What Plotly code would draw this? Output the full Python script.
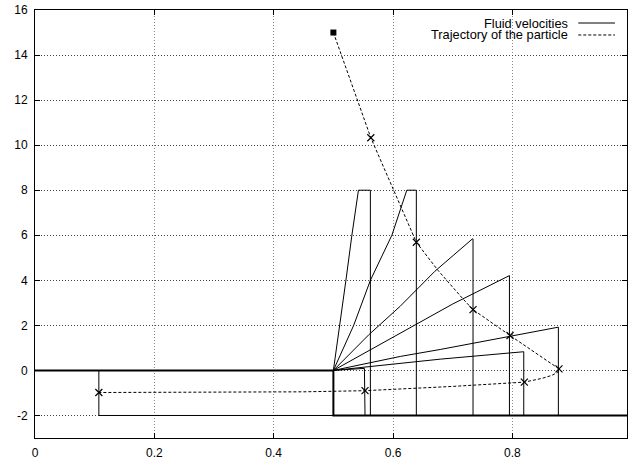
import plotly.graph_objects as go

# ---- data ----
# channel walls (thick)
wall_x = [0.0, 0.5, 0.5, 0.992]
wall_y = [0.0, 0.0, -2.0, -2.0]

# fluid velocity profiles
p1_x = [0.5, 0.511, 0.521, 0.531, 0.542, 0.562, 0.562]
p1_y = [0.0, 2.0, 4.0, 6.0, 8.0, 8.0, -2.0]
p2_x = [0.5, 0.534, 0.562, 0.598, 0.623, 0.639, 0.639]
p2_y = [0.0, 2.0, 4.0, 6.0, 8.0, 8.0, -2.0]
p3_x = [0.5, 0.56, 0.612, 0.67, 0.733, 0.734, 0.734]
p3_y = [0.0, 1.6, 2.85, 4.4, 5.84, 5.84, -2.0]
p4_x = [0.5, 0.612, 0.70, 0.795, 0.795]
p4_y = [0.0, 1.64, 2.95, 4.21, -2.0]
p5_x = [0.5, 0.612, 0.679, 0.877, 0.877]
p5_y = [0.0, 0.62, 0.93, 1.92, -2.0]
p6_x = [0.5, 0.612, 0.679, 0.819, 0.819]
p6_y = [0.0, 0.31, 0.50, 0.83, -2.0]
p7_x = [0.5, 0.552, 0.553]
p7_y = [0.0, 0.09, -2.0]
p8_x = [0.107, 0.107, 0.5]
p8_y = [0.0, -2.0, -2.0]
profiles = [(p1_x, p1_y), (p2_x, p2_y), (p3_x, p3_y), (p4_x, p4_y),
            (p5_x, p5_y), (p6_x, p6_y), (p7_x, p7_y), (p8_x, p8_y)]

# particle trajectory (curve) and sampled positions (markers)
traj_x = [0.5, 0.5627, 0.639, 0.675, 0.718, 0.734, 0.796, 0.878, 0.876, 0.866, 0.850, 0.820, 0.70, 0.553, 0.45, 0.107]
traj_y = [15.0, 10.33, 5.69, 4.45, 3.15, 2.70, 1.55, 0.07, -0.08, -0.22, -0.35, -0.52, -0.71, -0.90, -0.95, -0.98]
mark_x = [0.5627, 0.639, 0.734, 0.796, 0.878, 0.820, 0.553, 0.107]
mark_y = [10.33, 5.69, 2.70, 1.55, 0.07, -0.52, -0.90, -0.98]
start_x = [0.5]
start_y = [15.0]

x_ticks = [0, 0.2, 0.4, 0.6, 0.8]
x_labels = ["0", "0.2", "0.4", "0.6", "0.8"]
y_ticks = [-2, 0, 2, 4, 6, 8, 10, 12, 14, 16]
y_labels = [str(v) for v in y_ticks]

legend_labels = ["Fluid velocities", "Trajectory of the particle"]

# ---- build figure ----
FONT = "Liberation Sans, Arial, Helvetica, sans-serif"
fig = go.Figure()

fx, fy = [], []
for px, py in profiles:
    fx += px + [None]
    fy += py + [None]
fig.add_trace(go.Scatter(x=fx, y=fy, mode="lines", line=dict(color="black", width=1),
                         name=legend_labels[0], showlegend=False, hoverinfo="skip"))
fig.add_trace(go.Scatter(x=wall_x, y=wall_y, mode="lines", line=dict(color="black", width=2),
                         showlegend=False, hoverinfo="skip"))
fig.add_trace(go.Scatter(x=traj_x, y=traj_y, mode="lines",
                         line=dict(color="black", width=1, dash="3px,2px"),
                         name=legend_labels[1], showlegend=False, hoverinfo="skip"))
fig.add_trace(go.Scatter(x=mark_x, y=mark_y, mode="markers",
                         marker=dict(symbol="x-thin-open", size=7, color="black",
                                     line=dict(color="black", width=1.2)),
                         showlegend=False, hoverinfo="skip"))
fig.add_trace(go.Scatter(x=start_x, y=start_y, mode="markers",
                         marker=dict(symbol="square", size=6, color="black"),
                         showlegend=False, hoverinfo="skip"))

# key box background (hides grid behind the key, as in the reference)
fig.add_shape(type="rect", xref="paper", yref="paper", x0=0.592, x1=0.998, y0=0.923, y1=0.998,
              fillcolor="white", line=dict(width=0), layer="between")

# legend drawn gnuplot-style: text, then sample to the right
leg_rows = [0.9696, 0.9416]
dashes = ["solid", "3px,2px"]
for lab, yy, dsh in zip(legend_labels, leg_rows, dashes):
    fig.add_annotation(x=0.9037, y=yy, xref="paper", yref="paper", text=lab,
                       showarrow=False, xanchor="right", yanchor="middle",
                       font=dict(family=FONT, size=12.8, color="black"))
    fig.add_shape(type="line", xref="paper", yref="paper", x0=0.9177, x1=0.9797,
                  y0=yy, y1=yy, line=dict(color="black", width=1, dash=dsh))

axis_common = dict(showline=True, linecolor="black", linewidth=1, mirror="ticks",
                   ticks="inside", ticklen=5, tickcolor="black", tickwidth=1,
                   zeroline=False, showgrid=True, gridwidth=1, automargin=False,
                   tickfont=dict(family=FONT, size=12, color="black"))
fig.update_xaxes(range=[0, 0.992], tickvals=x_ticks, ticktext=x_labels,
                 gridcolor="#888888", griddash="1px,2px", ticklabelstandoff=4, **axis_common)
fig.update_yaxes(range=[-3, 16], tickvals=y_ticks, ticktext=y_labels,
                 gridcolor="#444444", griddash="1px,2px", ticklabelstandoff=4, **axis_common)

fig.update_layout(width=628, height=464, margin=dict(l=35, r=1, t=10, b=26),
                  plot_bgcolor="white", paper_bgcolor="white", showlegend=False,
                  font=dict(family=FONT, size=12, color="black"))

fig.write_html("out.html", config={"displayModeBar": False})

# remove the browser's default page margin so the figure sits at (0,0)
with open("out.html", "r", encoding="utf-8") as f:
    html = f.read()
html = html.replace("<head>", "<head><style>html,body{margin:0;padding:0;overflow:hidden}</style>", 1)
with open("out.html", "w", encoding="utf-8") as f:
    f.write(html)
